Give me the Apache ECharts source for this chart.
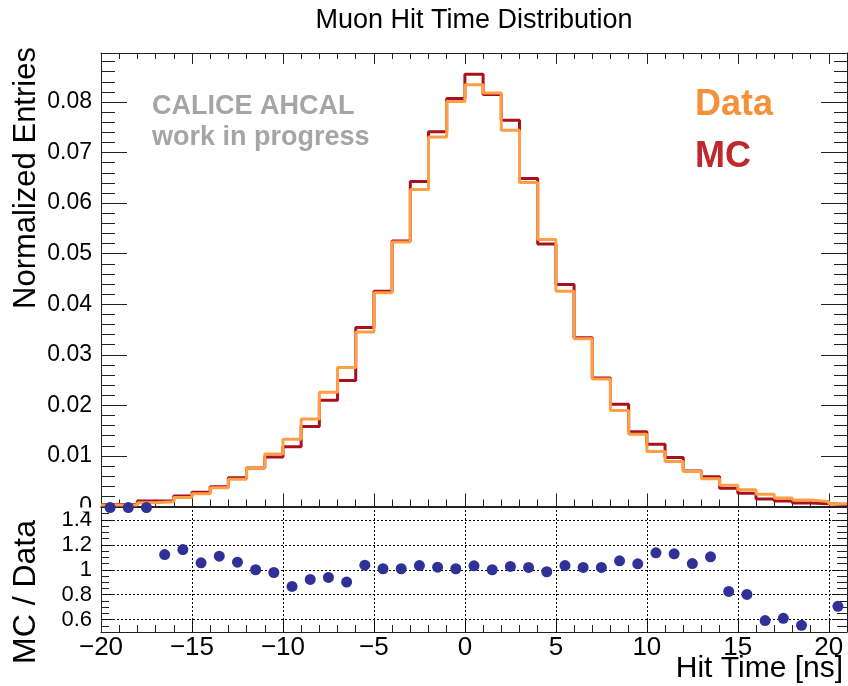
<!DOCTYPE html>
<html><head><meta charset="utf-8">
<script src="https://cdn.jsdelivr.net/npm/echarts@6/dist/echarts.min.js"></script>
<style>html,body{margin:0;padding:0;background:#fff}#c{width:848px;height:686px}</style>
</head><body><div id="c"></div>
<script>
// ---- data ----
const binLow = [-20,-19,-18,-17,-16,-15,-14,-13,-12,-11,-10,-9,-8,-7,-6,-5,-4,-3,-2,-1,0,1,2,3,4,5,6,7,8,9,10,11,12,13,14,15,16,17,18,19,20];
const binUpperEdge = 21;
const dataVals = [0.0003,0.0003,0.00075,0.00095,0.0018,0.0025,0.0037,0.0054,0.0076,0.0104,0.0133,0.0173,0.0226,0.0275,0.0345,0.0423,0.0523,0.0627,0.0731,0.0801,0.0834,0.0818,0.0744,0.0641,0.0528,0.0426,0.0332,0.0252,0.0190,0.0143,0.0109,0.0089,0.0069,0.0055,0.0042,0.0033,0.0024,0.0017,0.0013,0.0010,0.00055];
const mcVals = [0.0004,0.0004,0.0011,0.00107,0.0021,0.0028,0.0039,0.0057,0.0076,0.0098,0.0118,0.0158,0.0210,0.0249,0.0354,0.0426,0.0525,0.0643,0.0741,0.0807,0.0855,0.0815,0.0764,0.0649,0.0519,0.0439,0.0334,0.0254,0.0202,0.0148,0.0123,0.0097,0.0070,0.0059,0.0036,0.0026,0.0015,0.0011,0.0007,0.00055,0.0004];
const ratioVals = [1.5,1.5,1.5,1.122,1.162,1.056,1.109,1.061,1.0,0.978,0.866,0.922,0.938,0.901,1.037,1.008,1.008,1.034,1.021,1.008,1.032,1.0,1.027,1.019,0.984,1.034,1.019,1.019,1.072,1.048,1.136,1.128,1.05,1.104,0.826,0.802,0.592,0.61,0.554,null,0.706];
const ratioYTicks = [0.6,0.8,1.0,1.2,1.4];
const ratioXGrid = [-15,-10,-5,0,5,10,15,20];

// ---- build series data ----
function stepData(vals){
  const pts = binLow.map((x,i)=>[x, vals[i]]);
  pts.push([binUpperEdge, vals[vals.length-1]]);
  return pts;
}
const ratioData = binLow.map((x,i)=> ratioVals[i]==null ? null : [x+0.5, ratioVals[i]]).filter(p=>p);

const FF = '"Liberation Sans", Arial, Helvetica, sans-serif';
const FRAME = '#222';

function xAx(grid,pos,interval,tick,line,extra){
  return Object.assign({type:'value',gridIndex:grid,position:pos,min:-20,max:binUpperEdge,interval:interval,
    axisLine:{show:line,onZero:false,lineStyle:{color:FRAME,width:1}},
    axisTick:{show:tick>0,inside:true,length:tick,lineStyle:{color:FRAME,width:1}},
    axisLabel:{show:false},splitLine:{show:false}},extra||{});
}
function yAx(grid,pos,min,max,interval,tick,line,extra){
  return Object.assign({type:'value',gridIndex:grid,position:pos,min:min,max:max,interval:interval,
    axisLine:{show:line,onZero:false,lineStyle:{color:FRAME,width:1}},
    axisTick:{show:tick>0,inside:true,length:tick,lineStyle:{color:FRAME,width:1}},
    axisLabel:{show:false},splitLine:{show:false}},extra||{});
}

const option = {
  animation:false,
  backgroundColor:'#fff',
  grid:[
    {left:101,right:1,top:53,height:453.5},
    {left:101,right:1,top:507.5,height:124.5}
  ],
  xAxis:[
    xAx(0,'bottom',5,13,true),
    xAx(0,'bottom',1,7,false),
    xAx(0,'top',5,11,true),
    xAx(0,'top',1,6,false),
    xAx(1,'bottom',5,12,true,{axisLabel:{show:true,fontFamily:FF,fontSize:26,color:'#000',margin:3,showMaxLabel:false,
      formatter:v=> v<0 ? '\u2212'+Math.abs(v) : String(v)}}),
    xAx(1,'bottom',1,7,false),
    xAx(1,'top',5,0,true)
  ],
  yAxis:[
    yAx(0,'left',0,0.0897,0.01,26,true,{axisLabel:{show:true,fontFamily:FF,fontSize:23,color:'#000',margin:9,showMinLabel:false,showMaxLabel:false,
      formatter:v=>v.toFixed(2)}}),
    yAx(0,'left',0,0.0897,0.002,14,false),
    yAx(0,'right',0,0.0897,0.01,26,true),
    yAx(0,'right',0,0.0897,0.002,13,false),
    yAx(1,'left',0.5,1.5,0.05,8,true,{axisLabel:{show:true,customValues:ratioYTicks,fontFamily:FF,fontSize:22,color:'#000',margin:9,
      formatter:v=>String(Math.round(v*10)/10)}}),
    yAx(1,'left',0.5,1.5,0.05,12,false,{axisTick:{show:true,inside:true,length:12,customValues:ratioYTicks,lineStyle:{color:FRAME,width:1}}}),
    yAx(1,'right',0.5,1.5,0.05,10,true),
    yAx(1,'right',0.5,1.5,0.05,15,false,{axisTick:{show:true,inside:true,length:15,customValues:ratioYTicks,lineStyle:{color:FRAME,width:1}}})
  ],
  series:[
    {name:'MC',type:'line',xAxisIndex:0,yAxisIndex:0,step:'end',showSymbol:false,symbol:'none',
      data:stepData(mcVals),lineStyle:{color:'#a8101c',width:3},z:2},
    {name:'Data',type:'line',xAxisIndex:0,yAxisIndex:0,step:'end',showSymbol:false,symbol:'none',
      data:stepData(dataVals),lineStyle:{color:'#ff9e45',width:3},z:3},
    {name:'grid',type:'scatter',xAxisIndex:4,yAxisIndex:4,data:[],z:1,
      markLine:{silent:true,symbol:['none','none'],label:{show:false},animation:false,
        lineStyle:{color:'#000',type:[2,2],width:1},emphasis:{disabled:true},
        data:[...ratioYTicks.map(v=>({yAxis:v})),...ratioXGrid.map(v=>({xAxis:v}))]}},
    {name:'MC / Data',type:'scatter',xAxisIndex:4,yAxisIndex:4,data:ratioData,symbol:'circle',symbolSize:11,clip:false,
      itemStyle:{color:'#2f3196',opacity:1},z:5}
  ],
  graphic:[
    {type:'text',x:474,y:21,style:{text:'Muon Hit Time Distribution',font:'27px '+FF,fill:'#000',align:'center',verticalAlign:'middle',textAlign:'center',textVerticalAlign:'middle'}},
    {type:'text',x:26,y:178,rotation:Math.PI/2,style:{text:'Normalized Entries',font:'31px '+FF,fill:'#000',align:'center',verticalAlign:'middle',textAlign:'center',textVerticalAlign:'middle'}},
    {type:'text',x:26,y:592,rotation:Math.PI/2,style:{text:'MC / Data',font:'32px '+FF,fill:'#000',align:'center',verticalAlign:'middle',textAlign:'center',textVerticalAlign:'middle'}},
    {type:'text',x:843,y:669,style:{text:'Hit Time [ns]',font:'30px '+FF,fill:'#000',align:'right',verticalAlign:'middle',textAlign:'right',textVerticalAlign:'middle'}},
    {type:'text',x:152,y:107,style:{text:'CALICE AHCAL',font:'bold 27px '+FF,fill:'#a4a6a6',align:'left',verticalAlign:'middle',textAlign:'left',textVerticalAlign:'middle'}},
    {type:'text',x:152,y:138,style:{text:'work in progress',font:'bold 27px '+FF,fill:'#a4a6a6',align:'left',verticalAlign:'middle',textAlign:'left',textVerticalAlign:'middle'}},
    {type:'text',x:695,y:105,style:{text:'Data',font:'bold 36px '+FF,fill:'#f4923a',align:'left',verticalAlign:'middle',textAlign:'left',textVerticalAlign:'middle'}},
    {type:'text',x:695,y:157,style:{text:'MC',font:'bold 36px '+FF,fill:'#c0282d',align:'left',verticalAlign:'middle',textAlign:'left',textVerticalAlign:'middle'}},
    {type:'text',x:92,y:506.5,z:1,style:{text:'0',font:'23px '+FF,fill:'#000',align:'right',verticalAlign:'middle',textAlign:'right',textVerticalAlign:'middle'}},
    {type:'rect',z:50,shape:{x:40,y:507.5,width:60,height:4},style:{fill:'#fff'}}
  ]
};
const chart = echarts.init(document.getElementById('c'),null,{renderer:'canvas'});
chart.setOption(option);
</script></body></html>
